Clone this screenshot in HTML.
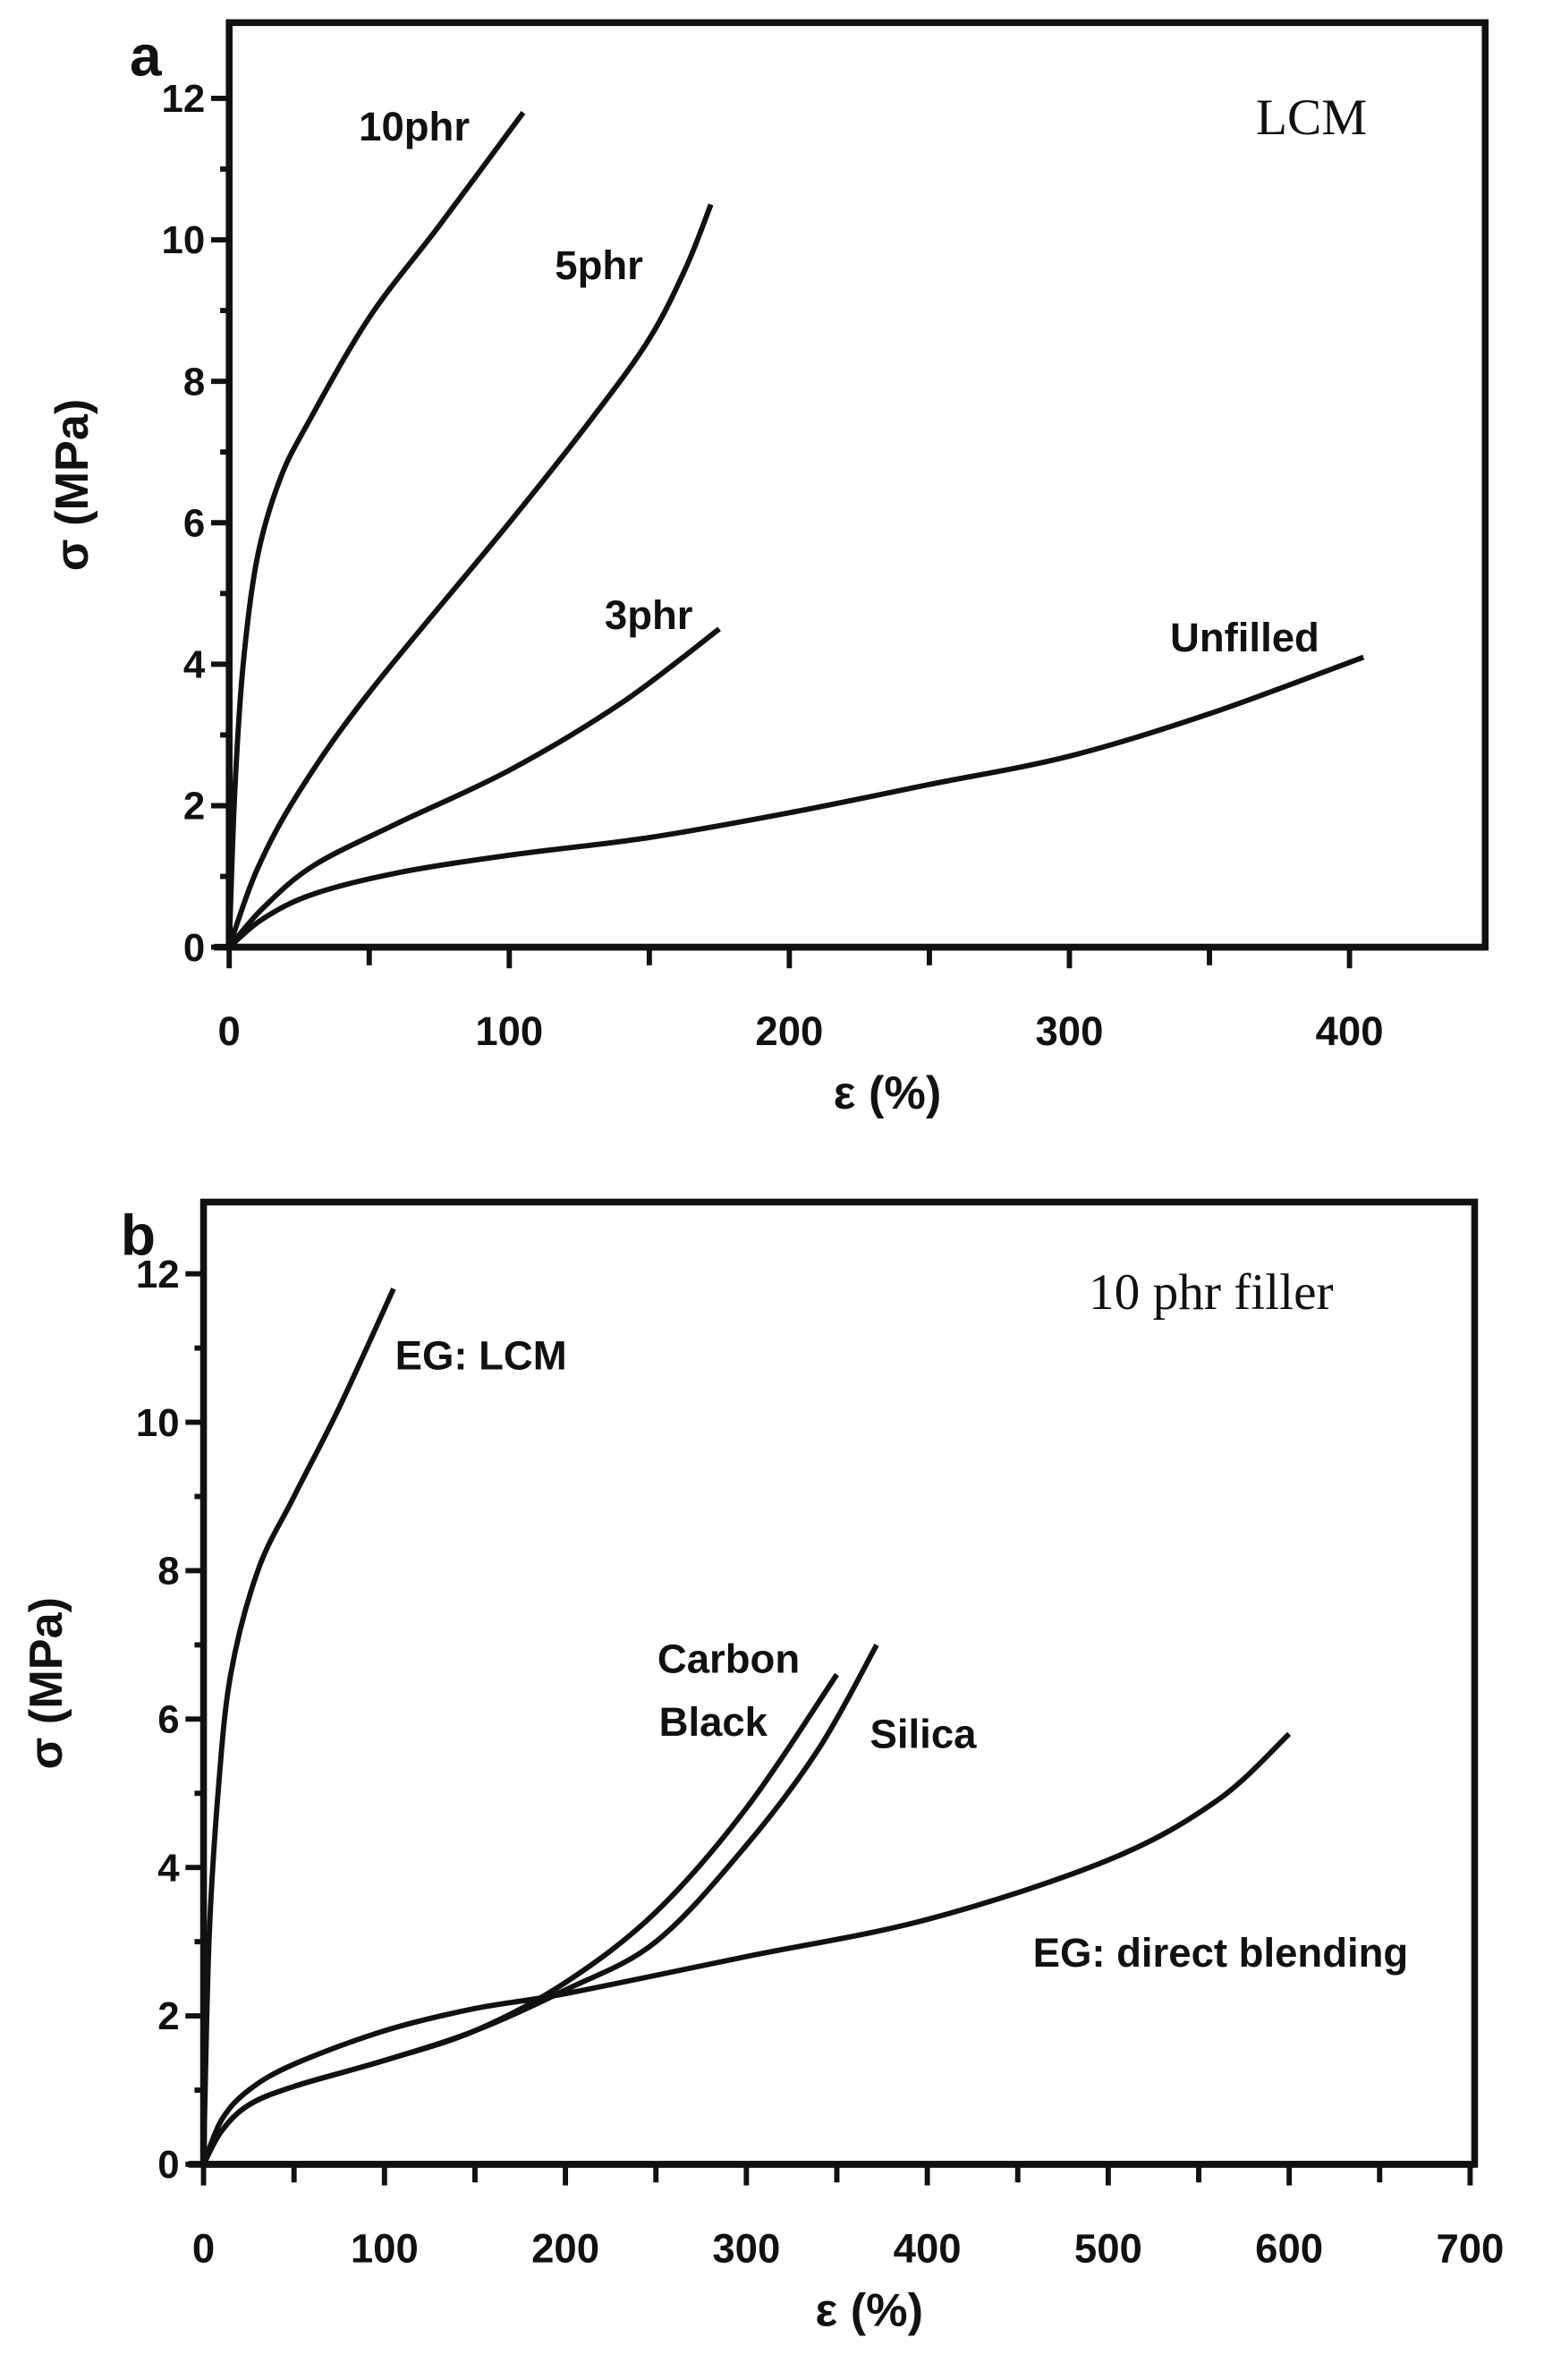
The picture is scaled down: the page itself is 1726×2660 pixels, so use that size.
<!DOCTYPE html>
<html><head><meta charset="utf-8"><style>
html,body{margin:0;padding:0;background:#fff}
svg{display:block}
.t{font-family:"Liberation Sans",sans-serif;font-weight:bold;fill:#111}
.s{font-family:"Liberation Serif",serif;fill:#111}
</style></head><body>
<svg id="g" width="1726" height="2660" viewBox="0 0 1024 1578" preserveAspectRatio="none" xmlns="http://www.w3.org/2000/svg">
</svg>
<script>
const svg=document.getElementById('g');let h='';
function cr(pts){let d='M'+pts[0][0]+','+pts[0][1];for(let i=0;i<pts.length-1;i++){const p0=pts[i-1]||pts[i],p1=pts[i],p2=pts[i+1],p3=pts[i+2]||p2;
const c1=[p1[0]+(p2[0]-p0[0])/6,p1[1]+(p2[1]-p0[1])/6],c2=[p2[0]-(p3[0]-p1[0])/6,p2[1]-(p3[1]-p1[1])/6];
d+=' C'+c1+' '+c2+' '+p2;}return d;}
function panel(o){
 const X=v=>o.x0+v*o.sx,Y=v=>o.y0-v*o.sy;
 h+=`<rect x="${o.x0}" y="${o.top}" width="${o.right-o.x0}" height="${o.y0-o.top}" fill="none" stroke="#111" stroke-width="4.5"/>`;
 h+=`<line x1="${o.x0-10}" y1="${o.y0}" x2="${o.right}" y2="${o.y0}" stroke="#111" stroke-width="4.5"/>`;
 for(let v=0;v<=12;v++){const y=Y(v);h+=`<line x1="${o.x0-(v%2?6:12)}" y1="${y}" x2="${o.x0}" y2="${y}" stroke="#111" stroke-width="3.5"/>`;
  if(v%2==0)h+=`<text class="t" x="${o.x0-16}" y="${y+9}" font-size="26" text-anchor="end">${v}</text>`;}
 for(let v=0;v<=o.xmax;v+=50){const x=X(v);if(x>o.right+2)break;h+=`<line x1="${x}" y1="${o.y0}" x2="${x}" y2="${o.y0+(v%100?12:14)}" stroke="#111" stroke-width="3.5"/>`;
  if(v%100==0)h+=`<text class="t" x="${x}" y="${o.y0+65}" font-size="27" text-anchor="middle">${v}</text>`;}
 h+=`<text class="t" x="${(o.x0+o.right)/2+20}" y="${o.y0+107}" font-size="31" text-anchor="middle">ε (%)</text>`;
 const cy=(o.top+o.y0)/2;
 h+=`<text class="t" transform="translate(${o.x0-94},${cy}) rotate(-90)" font-size="31" text-anchor="middle">σ (MPa)</text>`;
 h+=`<text class="t" x="${o.lx}" y="${o.ly}" font-size="38">${o.letter}</text>`;
 for(const c of o.curves){h+=`<path d="${cr(c.map(p=>[X(p[0]),Y(p[1])]))}" fill="none" stroke="#111" stroke-width="3.5"/>`;}
}
panel({x0:152,sx:1.8575,y0:628,sy:46.9,top:15,right:985,xmax:450,letter:'a',lx:86,ly:50,curves:[
 [[0,0],[2,2.2],[5,4],[10,5.5],[18,6.6],[28,7.4],[50,8.9],[75,10.2],[105,11.8]],
 [[0,0],[10,1.1],[25,2.2],[50,3.6],[100,6],[130,7.5],[150,8.6],[163,9.6],[172,10.5]],
 [[0,0],[12,0.55],[30,1.15],[60,1.75],[100,2.5],[140,3.45],[175,4.5]],
 [[0,0],[12,0.4],[30,0.75],[60,1.05],[100,1.3],[150,1.55],[200,1.9],[250,2.3],[300,2.7],[350,3.3],[405,4.1]]]});
panel({x0:135,sx:1.2,y0:1435,sy:49.2,top:797,right:978,xmax:700,letter:'b',lx:80,ly:832,curves:[
 [[0,0],[3,3],[8,5],[15,6.6],[30,8],[50,9],[75,10.2],[105,11.8]],
 [[0,0],[10,0.6],[25,1.0],[50,1.35],[100,1.8],[150,2.1],[200,2.3],[300,2.8],[400,3.3],[500,4.1],[560,4.9],[600,5.8]],
 [[0,0],[10,0.45],[25,0.8],[50,1.05],[100,1.4],[150,1.8],[200,2.45],[250,3.4],[300,4.8],[350,6.6]],
 [[0,0],[10,0.45],[25,0.8],[50,1.05],[100,1.4],[150,1.8],[200,2.35],[250,3.0],[300,4.3],[340,5.6],[372,7.0]]]});
h+=`<text class="t" x="238" y="93" font-size="27">10phr</text>`;
h+=`<text class="t" x="368" y="185" font-size="27">5phr</text>`;
h+=`<text class="t" x="401" y="417" font-size="27">3phr</text>`;
h+=`<text class="t" x="776" y="432" font-size="27">Unfilled</text>`;
h+=`<text class="s" x="833" y="89" font-size="34">LCM</text>`;
h+=`<text class="t" x="262" y="908" font-size="27">EG: LCM</text>`;
h+=`<text class="t" x="436" y="1109" font-size="27">Carbon</text>`;
h+=`<text class="t" x="437" y="1151" font-size="27">Black</text>`;
h+=`<text class="t" x="577" y="1159" font-size="27">Silica</text>`;
h+=`<text class="t" x="685" y="1304" font-size="27">EG: direct blending</text>`;
h+=`<text class="s" x="722" y="868" font-size="34">10 phr filler</text>`;
svg.innerHTML=h;
</script>
</body></html>
